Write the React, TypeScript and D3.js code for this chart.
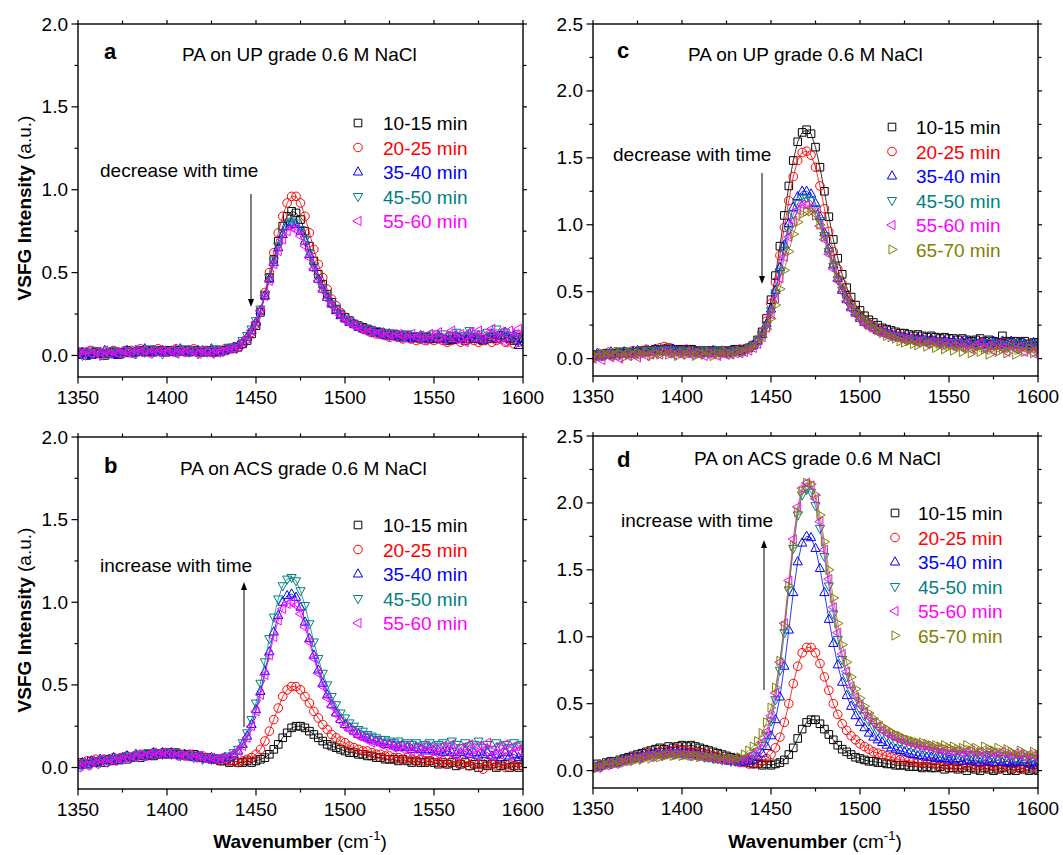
import React, { useEffect } from 'react';
import * as d3 from 'd3';

// ---------- DATA ----------
const wavenumbers = d3.range(0, 101).map((i) => 1350 + 2.5 * i);
const xTicksMajor = [1350, 1400, 1450, 1500, 1550, 1600];
const yTicksAB = [0.0, 0.5, 1.0, 1.5, 2.0];
const yTicksCD = [0.0, 0.5, 1.0, 1.5, 2.0, 2.5];
const timesAB = ['10-15 min', '20-25 min', '35-40 min', '45-50 min', '55-60 min'];
const timesCD = ['10-15 min', '20-25 min', '35-40 min', '45-50 min', '55-60 min', '65-70 min'];
const seriesColors = ['#000000', '#ff0000', '#0000ff', '#008080', '#ff00ff', '#808000'];
const markerShapes = ['square', 'circle', 'up', 'down', 'left', 'right'];

// Panel a: PA on UP grade
const aBlack = [0.01,0.02,0.00,0.01,0.02,0.01,0.00,0.01,0.02,0.01,0.02,0.03,0.02,0.02,0.03,0.02,0.03,0.02,0.03,0.02,0.03,
 0.03,0.02,0.03,0.03,0.02,0.03,0.02,0.02,0.03,0.02,0.02,0.03,0.03,0.04,0.04,
 0.05,0.07,0.09,0.13,0.18,0.26,0.36,0.47,0.58,0.69,0.78,0.84,
 0.87,0.86,0.82,0.75,0.66,0.57,0.49,0.43,0.37,0.32,0.28,0.25,0.23,
 0.21,0.19,0.18,0.17,0.16,0.15,0.14,0.14,0.13,0.12,0.13,0.12,0.11,0.12,0.11,0.11,0.10,0.11,0.10,0.10,
 0.11,0.10,0.09,0.10,0.11,0.10,0.09,0.10,0.11,0.10,0.09,0.10,0.11,0.10,0.12,0.11,0.10,0.09,0.11,0.10];
const aRed = [0.02,0.01,0.02,0.03,0.01,0.02,0.01,0.02,0.03,0.02,0.01,0.02,0.03,0.02,0.04,0.03,0.02,0.03,0.04,0.03,0.02,
 0.03,0.04,0.03,0.02,0.03,0.04,0.03,0.02,0.03,0.03,0.02,0.03,0.04,0.04,0.05,
 0.05,0.07,0.10,0.14,0.19,0.27,0.38,0.50,0.62,0.74,0.84,0.92,
 0.96,0.96,0.92,0.84,0.74,0.64,0.55,0.47,0.40,0.34,0.30,0.26,0.23,
 0.21,0.19,0.18,0.16,0.15,0.14,0.13,0.13,0.12,0.11,0.12,0.11,0.10,0.11,0.10,0.09,0.10,0.09,0.10,0.09,
 0.10,0.09,0.08,0.09,0.10,0.08,0.09,0.10,0.09,0.08,0.09,0.10,0.08,0.09,0.10,0.08,0.09,0.07,0.08,0.09];
const aBlue = [0.00,0.02,0.01,0.00,0.02,0.01,0.03,0.01,0.02,0.00,0.02,0.03,0.01,0.03,0.02,0.04,0.02,0.03,0.02,0.03,0.02,
 0.02,0.03,0.04,0.02,0.03,0.02,0.03,0.03,0.02,0.04,0.03,0.02,0.03,0.04,0.05,
 0.06,0.08,0.11,0.15,0.20,0.27,0.36,0.46,0.56,0.65,0.73,0.78,
 0.80,0.79,0.75,0.69,0.61,0.53,0.46,0.40,0.35,0.31,0.27,0.24,0.22,
 0.20,0.19,0.17,0.16,0.15,0.15,0.14,0.13,0.12,0.13,0.12,0.11,0.12,0.11,0.10,0.11,0.12,0.10,0.11,0.10,
 0.12,0.10,0.11,0.09,0.12,0.10,0.11,0.13,0.10,0.12,0.09,0.11,0.13,0.10,0.12,0.14,0.10,0.12,0.06,0.10];
const aTeal = [0.01,0.00,0.02,0.01,0.03,0.00,0.02,0.01,0.03,0.02,0.01,0.03,0.02,0.01,0.03,0.02,0.04,0.02,0.03,0.01,0.03,
 0.03,0.02,0.03,0.04,0.02,0.03,0.01,0.03,0.02,0.03,0.04,0.02,0.03,0.05,0.05,
 0.06,0.09,0.12,0.16,0.21,0.28,0.37,0.47,0.57,0.66,0.74,0.79,
 0.81,0.80,0.76,0.70,0.62,0.54,0.47,0.41,0.36,0.31,0.28,0.25,0.22,
 0.21,0.19,0.18,0.16,0.16,0.14,0.15,0.13,0.14,0.12,0.13,0.12,0.11,0.13,0.11,0.12,0.10,0.12,0.11,0.13,
 0.11,0.13,0.10,0.12,0.14,0.11,0.12,0.15,0.11,0.13,0.10,0.14,0.12,0.16,0.11,0.14,0.12,0.10,0.13,0.11];
const aMagenta = [0.02,0.00,0.03,0.01,0.02,0.00,0.03,0.01,0.02,0.01,0.03,0.02,0.01,0.03,0.02,0.03,0.01,0.03,0.02,0.03,0.02,
 0.03,0.01,0.03,0.02,0.03,0.02,0.01,0.03,0.02,0.01,0.03,0.02,0.03,0.04,0.04,
 0.05,0.08,0.11,0.15,0.20,0.27,0.36,0.45,0.55,0.63,0.70,0.75,
 0.77,0.76,0.72,0.66,0.59,0.52,0.45,0.39,0.34,0.30,0.27,0.24,0.21,
 0.20,0.18,0.17,0.16,0.14,0.15,0.13,0.14,0.12,0.13,0.11,0.13,0.12,0.10,0.13,0.11,0.12,0.09,0.13,0.11,
 0.14,0.09,0.12,0.15,0.10,0.13,0.08,0.14,0.11,0.15,0.09,0.13,0.16,0.10,0.14,0.08,0.15,0.11,0.16,0.12];

// Panel b: PA on ACS grade
const bBlack = [0.02,0.03,0.02,0.04,0.03,0.04,0.03,0.05,0.04,0.05,0.06,0.05,0.06,0.07,0.06,0.07,0.08,0.07,0.08,0.08,0.09,
 0.08,0.09,0.08,0.08,0.07,0.08,0.07,0.06,0.06,0.05,0.05,0.04,0.04,0.03,0.04,
 0.03,0.03,0.04,0.03,0.04,0.05,0.06,0.08,0.11,0.14,0.18,0.21,
 0.24,0.25,0.25,0.24,0.22,0.20,0.18,0.16,0.14,0.13,0.12,0.11,0.10,
 0.09,0.09,0.08,0.08,0.07,0.07,0.06,0.06,0.05,0.05,0.05,0.04,0.05,0.04,0.03,0.04,0.03,0.03,0.04,0.03,
 0.02,0.03,0.02,0.03,0.01,0.02,0.03,0.01,0.02,0.00,0.02,0.01,0.02,0.00,0.01,0.02,0.00,0.01,0.00,0.01];
const bRed = [0.03,0.02,0.04,0.03,0.05,0.04,0.05,0.04,0.06,0.05,0.06,0.07,0.06,0.07,0.08,0.07,0.08,0.09,0.08,0.09,0.08,
 0.09,0.08,0.08,0.07,0.08,0.07,0.06,0.07,0.06,0.05,0.05,0.04,0.05,0.04,0.04,
 0.03,0.04,0.05,0.06,0.08,0.11,0.16,0.22,0.29,0.36,0.43,0.47,
 0.49,0.49,0.47,0.43,0.39,0.34,0.30,0.26,0.23,0.20,0.18,0.16,0.15,
 0.13,0.12,0.11,0.10,0.10,0.09,0.08,0.08,0.07,0.07,0.06,0.06,0.05,0.06,0.05,0.04,0.05,0.04,0.04,0.05,
 0.03,0.04,0.02,0.04,0.03,0.02,0.04,0.01,0.03,0.02,-0.01,0.03,0.02,0.01,0.03,0.00,0.02,0.01,0.03,0.01];
const bBlue = [0.01,0.03,0.02,0.04,0.03,0.05,0.04,0.05,0.06,0.04,0.06,0.07,0.06,0.08,0.07,0.08,0.07,0.09,0.08,0.09,0.08,
 0.09,0.08,0.07,0.08,0.07,0.06,0.07,0.06,0.05,0.06,0.05,0.05,0.06,0.06,0.08,
 0.10,0.14,0.19,0.26,0.35,0.46,0.58,0.70,0.82,0.92,1.00,1.04,
 1.05,1.03,0.97,0.88,0.78,0.68,0.59,0.51,0.44,0.38,0.33,0.29,0.26,
 0.24,0.22,0.20,0.19,0.18,0.17,0.16,0.15,0.14,0.14,0.13,0.12,0.13,0.12,0.11,0.12,0.11,0.10,0.11,0.10,
 0.10,0.09,0.10,0.09,0.08,0.09,0.10,0.08,0.09,0.07,0.08,0.09,0.07,0.08,0.06,0.09,0.07,0.08,0.06,0.07];
const bTeal = [0.02,0.01,0.03,0.02,0.04,0.03,0.05,0.04,0.05,0.06,0.05,0.07,0.06,0.07,0.08,0.07,0.09,0.08,0.09,0.08,0.09,
 0.08,0.09,0.07,0.08,0.07,0.06,0.07,0.05,0.06,0.05,0.06,0.05,0.06,0.07,0.09,
 0.11,0.15,0.21,0.29,0.39,0.51,0.64,0.78,0.91,1.02,1.10,1.14,
 1.15,1.13,1.07,0.98,0.87,0.76,0.66,0.57,0.50,0.43,0.38,0.33,0.30,
 0.27,0.25,0.23,0.22,0.20,0.19,0.18,0.17,0.17,0.16,0.15,0.16,0.14,0.15,0.14,0.15,0.13,0.14,0.15,0.13,
 0.14,0.15,0.13,0.16,0.14,0.12,0.15,0.13,0.14,0.16,0.12,0.14,0.11,0.15,0.13,0.14,0.12,0.15,0.13,0.14];
const bMagenta = [0.00,0.03,0.01,0.04,0.02,0.05,0.03,0.05,0.04,0.06,0.05,0.06,0.07,0.06,0.08,0.07,0.08,0.09,0.08,0.09,0.08,
 0.09,0.07,0.08,0.07,0.08,0.06,0.07,0.06,0.05,0.06,0.05,0.06,0.05,0.07,0.08,
 0.10,0.13,0.18,0.25,0.34,0.44,0.56,0.68,0.79,0.89,0.96,0.99,
 1.00,0.98,0.93,0.85,0.76,0.66,0.57,0.49,0.42,0.37,0.32,0.28,0.25,
 0.23,0.21,0.19,0.18,0.17,0.15,0.16,0.14,0.13,0.14,0.12,0.13,0.11,0.13,0.10,0.12,0.09,0.13,0.10,0.12,
 0.08,0.13,0.10,0.14,0.07,0.12,0.09,0.14,0.08,0.13,0.10,0.15,0.07,0.12,0.09,0.14,0.08,0.13,0.10,0.12];

// Panel c: PA on UP grade
const cBlack = [0.02,0.03,0.02,0.04,0.03,0.04,0.05,0.04,0.05,0.04,0.05,0.06,0.05,0.06,0.07,0.06,0.07,0.08,0.07,0.06,0.07,
 0.06,0.07,0.06,0.05,0.06,0.05,0.06,0.05,0.06,0.05,0.06,0.07,0.06,0.07,0.08,
 0.10,0.14,0.20,0.30,0.44,0.62,0.84,1.07,1.29,1.48,1.62,1.69,
 1.71,1.68,1.58,1.43,1.25,1.06,0.89,0.75,0.63,0.53,0.46,0.40,0.36,
 0.32,0.29,0.27,0.25,0.23,0.22,0.21,0.20,0.19,0.19,0.18,0.17,0.18,0.17,0.16,0.17,0.16,0.15,0.16,0.15,
 0.15,0.14,0.15,0.14,0.13,0.14,0.15,0.13,0.14,0.13,0.12,0.17,0.13,0.12,0.13,0.12,0.13,0.11,0.12,0.12];
const cRed = [0.03,0.02,0.03,0.04,0.03,0.05,0.04,0.05,0.04,0.06,0.05,0.06,0.07,0.06,0.07,0.08,0.09,0.08,0.07,0.06,0.06,
 0.07,0.06,0.05,0.06,0.05,0.06,0.05,0.05,0.06,0.05,0.06,0.06,0.07,0.07,0.08,
 0.10,0.13,0.19,0.28,0.41,0.57,0.77,0.98,1.18,1.36,1.48,1.54,
 1.55,1.52,1.43,1.29,1.12,0.95,0.80,0.67,0.56,0.48,0.41,0.36,0.32,
 0.29,0.26,0.24,0.22,0.21,0.19,0.18,0.17,0.17,0.16,0.15,0.15,0.14,0.14,0.13,0.14,0.13,0.12,0.13,0.12,
 0.12,0.11,0.12,0.11,0.12,0.10,0.11,0.12,0.10,0.11,0.10,0.11,0.12,0.10,0.11,0.09,0.10,0.11,0.09,0.10];
const cBlue = [0.02,0.04,0.02,0.03,0.05,0.03,0.04,0.05,0.04,0.05,0.06,0.05,0.06,0.05,0.07,0.06,0.07,0.06,0.07,0.06,0.05,
 0.06,0.05,0.06,0.05,0.04,0.05,0.06,0.05,0.04,0.05,0.06,0.05,0.06,0.07,0.08,
 0.10,0.13,0.18,0.26,0.37,0.51,0.68,0.85,1.01,1.13,1.21,1.25,
 1.25,1.23,1.16,1.06,0.94,0.82,0.70,0.60,0.51,0.44,0.38,0.34,0.30,
 0.27,0.25,0.23,0.21,0.20,0.19,0.18,0.17,0.16,0.16,0.15,0.14,0.15,0.14,0.13,0.14,0.13,0.12,0.13,0.12,
 0.13,0.11,0.12,0.13,0.11,0.12,0.10,0.12,0.11,0.13,0.10,0.12,0.11,0.13,0.10,0.12,0.11,0.09,0.12,0.10];
const cTeal = [0.01,0.03,0.02,0.04,0.03,0.04,0.03,0.05,0.04,0.05,0.04,0.06,0.05,0.06,0.05,0.06,0.07,0.06,0.05,0.06,0.05,
 0.06,0.05,0.04,0.05,0.06,0.04,0.05,0.06,0.05,0.04,0.05,0.06,0.05,0.06,0.08,
 0.10,0.13,0.18,0.25,0.36,0.49,0.65,0.81,0.96,1.08,1.16,1.20,
 1.20,1.18,1.12,1.03,0.92,0.80,0.69,0.59,0.51,0.44,0.38,0.34,0.30,
 0.27,0.25,0.23,0.21,0.20,0.19,0.17,0.17,0.16,0.15,0.15,0.14,0.13,0.14,0.13,0.12,0.13,0.12,0.11,0.12,
 0.11,0.12,0.10,0.11,0.12,0.10,0.11,0.09,0.12,0.10,0.11,0.09,0.10,0.12,0.09,0.11,0.10,0.08,0.11,0.09];
const cMagenta = [0.00,0.02,-0.01,0.03,0.01,0.02,0.00,0.03,0.02,0.03,0.01,0.04,0.02,0.03,0.04,0.03,0.05,0.04,0.03,0.04,0.03,
 0.04,0.03,0.04,0.03,0.02,0.04,0.03,0.02,0.04,0.03,0.03,0.04,0.04,0.05,0.06,
 0.08,0.11,0.16,0.23,0.33,0.45,0.60,0.76,0.91,1.03,1.11,1.15,
 1.15,1.13,1.08,0.99,0.89,0.78,0.67,0.58,0.50,0.43,0.37,0.33,0.29,
 0.26,0.24,0.22,0.20,0.19,0.18,0.17,0.16,0.15,0.14,0.15,0.13,0.12,0.14,0.11,0.13,0.12,0.10,0.12,0.11,
 0.09,0.12,0.08,0.11,0.07,0.10,0.12,0.07,0.10,0.06,0.11,0.08,0.05,0.10,0.07,0.09,0.05,0.08,0.04,0.07];
const cOlive = [0.03,0.01,0.04,0.02,0.05,0.02,0.04,0.01,0.05,0.02,0.04,0.03,0.05,0.02,0.04,0.03,0.05,0.03,0.04,0.02,0.04,
 0.03,0.05,0.02,0.04,0.03,0.05,0.02,0.04,0.03,0.05,0.03,0.04,0.06,0.05,0.07,
 0.09,0.12,0.16,0.22,0.30,0.40,0.52,0.66,0.80,0.93,1.02,1.08,
 1.10,1.10,1.07,1.00,0.91,0.81,0.71,0.61,0.53,0.46,0.40,0.35,0.31,
 0.28,0.25,0.23,0.21,0.19,0.17,0.16,0.15,0.13,0.12,0.13,0.11,0.10,0.12,0.09,0.11,0.08,0.10,0.07,0.09,
 0.06,0.09,0.05,0.08,0.04,0.08,0.05,0.07,0.03,0.08,0.05,0.07,0.04,0.09,0.03,0.07,0.05,0.08,0.04,0.06];

// Panel d: PA on ACS grade
const dBlack = [0.03,0.05,0.04,0.06,0.07,0.06,0.08,0.09,0.10,0.11,0.12,0.13,0.14,0.15,0.16,0.17,0.16,0.18,0.17,0.18,0.19,
 0.18,0.19,0.18,0.17,0.16,0.15,0.14,0.13,0.12,0.11,0.10,0.09,0.08,0.07,0.06,
 0.05,0.05,0.04,0.05,0.04,0.05,0.06,0.08,0.12,0.17,0.24,0.31,
 0.36,0.38,0.38,0.35,0.31,0.27,0.23,0.19,0.16,0.14,0.12,0.10,0.09,
 0.08,0.07,0.07,0.06,0.06,0.05,0.05,0.04,0.04,0.04,0.03,0.03,0.03,0.02,0.03,0.02,0.02,0.03,0.01,0.02,
 0.02,0.01,0.02,0.00,0.02,0.01,0.00,0.02,0.01,0.00,0.01,0.02,0.00,0.01,0.00,0.02,0.01,0.00,0.01,0.00];
const dRed = [0.02,0.03,0.04,0.05,0.05,0.06,0.07,0.08,0.09,0.10,0.10,0.11,0.12,0.13,0.13,0.14,0.15,0.14,0.15,0.16,0.15,
 0.15,0.14,0.14,0.13,0.12,0.12,0.11,0.10,0.09,0.08,0.08,0.07,0.06,0.06,0.05,
 0.05,0.06,0.07,0.09,0.12,0.17,0.25,0.36,0.50,0.65,0.78,0.88,
 0.92,0.92,0.88,0.80,0.70,0.60,0.50,0.42,0.35,0.30,0.26,0.23,0.20,
 0.18,0.16,0.14,0.13,0.12,0.11,0.10,0.09,0.08,0.08,0.07,0.07,0.06,0.06,0.05,0.06,0.05,0.04,0.05,0.04,
 0.04,0.03,0.04,0.05,0.03,0.04,0.02,0.04,0.03,0.04,0.02,0.03,0.04,0.02,0.03,0.01,0.03,0.02,0.04,0.02];
const dBlue = [0.02,0.03,0.04,0.05,0.06,0.06,0.07,0.08,0.09,0.09,0.10,0.11,0.11,0.12,0.13,0.12,0.13,0.14,0.13,0.14,0.13,
 0.13,0.12,0.12,0.11,0.11,0.10,0.09,0.09,0.08,0.08,0.07,0.07,0.06,0.07,0.07,
 0.08,0.10,0.13,0.18,0.26,0.38,0.55,0.78,1.05,1.33,1.56,1.70,
 1.75,1.74,1.66,1.51,1.33,1.13,0.95,0.79,0.66,0.56,0.48,0.41,0.36,
 0.32,0.28,0.25,0.23,0.21,0.19,0.17,0.16,0.15,0.14,0.13,0.12,0.11,0.11,0.10,0.10,0.09,0.10,0.09,0.08,
 0.08,0.09,0.07,0.08,0.07,0.08,0.06,0.08,0.07,0.06,0.08,0.06,0.07,0.05,0.07,0.06,0.08,0.05,0.04,0.06];
const dTeal = [0.02,0.04,0.03,0.05,0.05,0.07,0.06,0.08,0.08,0.09,0.10,0.10,0.11,0.12,0.11,0.13,0.12,0.13,0.12,0.13,0.12,
 0.12,0.11,0.12,0.11,0.10,0.10,0.09,0.09,0.08,0.08,0.07,0.07,0.07,0.08,0.09,
 0.11,0.14,0.19,0.26,0.37,0.53,0.75,1.03,1.35,1.66,1.91,2.06,
 2.10,2.08,1.98,1.81,1.60,1.38,1.17,0.98,0.83,0.70,0.60,0.52,0.46,
 0.41,0.37,0.33,0.30,0.28,0.26,0.24,0.22,0.21,0.20,0.19,0.18,0.17,0.16,0.16,0.15,0.14,0.14,0.13,0.13,
 0.12,0.13,0.11,0.12,0.11,0.12,0.10,0.11,0.12,0.10,0.11,0.09,0.11,0.10,0.09,0.11,0.08,0.10,0.09,0.08];
const dMagenta = [0.03,0.02,0.04,0.04,0.06,0.05,0.07,0.07,0.08,0.09,0.09,0.10,0.11,0.10,0.12,0.11,0.12,0.13,0.12,0.13,0.12,
 0.12,0.12,0.11,0.11,0.10,0.10,0.09,0.09,0.08,0.08,0.08,0.07,0.08,0.09,0.10,
 0.12,0.15,0.21,0.29,0.41,0.58,0.81,1.10,1.42,1.73,1.97,2.11,
 2.15,2.13,2.03,1.86,1.65,1.43,1.22,1.03,0.87,0.74,0.63,0.55,0.49,
 0.44,0.40,0.36,0.33,0.30,0.28,0.26,0.25,0.23,0.22,0.21,0.20,0.19,0.18,0.18,0.17,0.16,0.16,0.15,0.15,
 0.14,0.15,0.13,0.14,0.15,0.13,0.14,0.12,0.14,0.13,0.12,0.14,0.12,0.11,0.13,0.12,0.10,0.12,0.11,0.10];
const dOlive = [0.04,0.02,0.05,0.04,0.06,0.05,0.07,0.06,0.08,0.07,0.09,0.08,0.10,0.09,0.11,0.10,0.11,0.12,0.11,0.12,0.11,
 0.12,0.11,0.11,0.10,0.11,0.10,0.10,0.09,0.10,0.09,0.09,0.08,0.10,0.12,0.15,
 0.18,0.22,0.28,0.36,0.47,0.62,0.82,1.08,1.38,1.68,1.93,2.09,
 2.15,2.14,2.06,1.91,1.71,1.50,1.29,1.10,0.94,0.81,0.70,0.61,0.54,
 0.48,0.43,0.39,0.36,0.33,0.31,0.29,0.27,0.26,0.24,0.23,0.22,0.21,0.21,0.20,0.19,0.19,0.18,0.19,0.17,
 0.18,0.16,0.17,0.19,0.15,0.17,0.14,0.18,0.16,0.15,0.17,0.13,0.16,0.14,0.12,0.15,0.13,0.11,0.14,0.12];

// ---------- DRAWING ----------
const FONT = '"Liberation Sans", Arial, Helvetica, sans-serif';

function markerPath(shape: string, cx: number, cy: number): string {
  const s = 3.8;
  switch (shape) {
    case 'square':
      return `M${cx - s},${cy - s}h${2 * s}v${2 * s}h${-2 * s}Z`;
    case 'circle':
      return `M${cx + 4.3},${cy}A4.3,4.3 0 1 1 ${cx - 4.3},${cy}A4.3,4.3 0 1 1 ${cx + 4.3},${cy}Z`;
    case 'up':
      return `M${cx},${cy - 5.2}L${cx + 4.6},${cy + 3}L${cx - 4.6},${cy + 3}Z`;
    case 'down':
      return `M${cx},${cy + 5.2}L${cx + 4.6},${cy - 3}L${cx - 4.6},${cy - 3}Z`;
    case 'left':
      return `M${cx - 5.2},${cy}L${cx + 3},${cy - 4.6}L${cx + 3},${cy + 4.6}Z`;
    default:
      return `M${cx + 5.2},${cy}L${cx - 3},${cy - 4.6}L${cx - 3},${cy + 4.6}Z`;
  }
}

type PanelProps = {
  id: string;
  left: number;
  right: number;
  top: number;
  bottom: number;
  yMax: number;
  yTicks: number[];
  series: number[][];
  names: string[];
  letter: string;
  letterPos: [number, number];
  title: string;
  titlePos: [number, number];
  note: string;
  notePos: [number, number];
  arrow: [number, number, number]; // x, yFrom, yTo
  legendPos: [number, number, number]; // markerX, textX, firstRowY
  legendStep: number;
  showXLabels: boolean;
};

function Panel(p: PanelProps) {
  const x = d3.scaleLinear().domain([1350, 1600]).range([p.left, p.right]);
  const y = d3.scaleLinear().domain([-0.13, p.yMax]).range([p.bottom, p.top]);
  const xMinor = d3.range(1375, 1600, 50);
  const yMinor = d3.range(0.25, p.yMax, 0.5);
  const line = d3
    .line<number>()
    .x((_, i) => x(wavenumbers[i]))
    .y((d) => y(d));
  const [ax, ay0, ay1] = p.arrow;
  const dir = ay1 > ay0 ? 1 : -1;
  return (
    <g>
      <defs>
        <clipPath id={`clip-${p.id}`}>
          <rect x={p.left} y={p.top} width={p.right - p.left} height={p.bottom - p.top} />
        </clipPath>
      </defs>
      <g clipPath={`url(#clip-${p.id})`}>
        {p.series.map((vals, si) => (
          <g key={si}>
            <path d={line(vals) || ''} fill="none" stroke={seriesColors[si]} strokeWidth={0.8} />
            {vals.map((v, i) => (
              <path
                key={i}
                d={markerPath(markerShapes[si], x(wavenumbers[i]), y(v))}
                fill="none"
                stroke={seriesColors[si]}
                strokeWidth={1}
              />
            ))}
          </g>
        ))}
      </g>
      {/* frame */}
      <rect
        x={p.left}
        y={p.top}
        width={p.right - p.left}
        height={p.bottom - p.top}
        fill="none"
        stroke="#000"
        strokeWidth={1.4}
      />
      {/* x ticks */}
      {xTicksMajor.map((t) => (
        <g key={`xt${t}`}>
          <line x1={x(t)} x2={x(t)} y1={p.bottom} y2={p.bottom + 6.5} stroke="#000" strokeWidth={1.2} />
          <line x1={x(t)} x2={x(t)} y1={p.top} y2={p.top - 4} stroke="#000" strokeWidth={1.2} />
          {p.showXLabels && (
            <text x={x(t)} y={p.bottom + 27} textAnchor="middle" fontSize={19} fontFamily={FONT}>
              {t}
            </text>
          )}
        </g>
      ))}
      {xMinor.map((t) => (
        <g key={`xm${t}`}>
          <line x1={x(t)} x2={x(t)} y1={p.bottom} y2={p.bottom + 3.5} stroke="#000" strokeWidth={1.2} />
          <line x1={x(t)} x2={x(t)} y1={p.top} y2={p.top - 3.5} stroke="#000" strokeWidth={1.2} />
        </g>
      ))}
      {/* y ticks */}
      {p.yTicks.map((t) => (
        <g key={`yt${t}`}>
          <line x1={p.left} x2={p.left - 6.5} y1={y(t)} y2={y(t)} stroke="#000" strokeWidth={1.2} />
          <line x1={p.right} x2={p.right + 4} y1={y(t)} y2={y(t)} stroke="#000" strokeWidth={1.2} />
          <text x={p.left - 10} y={y(t) + 6.5} textAnchor="end" fontSize={19} fontFamily={FONT}>
            {t.toFixed(1)}
          </text>
        </g>
      ))}
      {yMinor.map((t) => (
        <g key={`ym${t}`}>
          <line x1={p.left} x2={p.left - 3.5} y1={y(t)} y2={y(t)} stroke="#000" strokeWidth={1.2} />
          <line x1={p.right} x2={p.right + 3.5} y1={y(t)} y2={y(t)} stroke="#000" strokeWidth={1.2} />
        </g>
      ))}
      {/* labels */}
      <text x={p.letterPos[0]} y={p.letterPos[1]} fontSize={22} fontWeight="bold" fontFamily={FONT}>
        {p.letter}
      </text>
      <text x={p.titlePos[0]} y={p.titlePos[1]} fontSize={19} fontFamily={FONT}>
        {p.title}
      </text>
      <text x={p.notePos[0]} y={p.notePos[1]} fontSize={19} fontFamily={FONT}>
        {p.note}
      </text>
      <line x1={ax} x2={ax} y1={ay0} y2={ay1 - dir * 6} stroke="#000" strokeWidth={1} />
      <path d={`M${ax},${ay1}L${ax - 3},${ay1 - dir * 8}L${ax + 3},${ay1 - dir * 8}Z`} fill="#000" />
      {/* legend */}
      {p.names.map((n, i) => {
        const cy = p.legendPos[2] + i * p.legendStep;
        return (
          <g key={n}>
            <path
              d={markerPath(markerShapes[i], p.legendPos[0], cy)}
              fill="none"
              stroke={seriesColors[i]}
              strokeWidth={1}
            />
            <text x={p.legendPos[1]} y={cy + 7} fontSize={19} fontFamily={FONT} fill={seriesColors[i]}>
              {n}
            </text>
          </g>
        );
      })}
    </g>
  );
}

function YTitle({ cx, cy }: { cx: number; cy: number }) {
  return (
    <text transform={`translate(${cx},${cy}) rotate(-90)`} textAnchor="middle" fontSize={19} fontFamily={FONT}>
      <tspan fontWeight="bold">VSFG Intensity</tspan>
      <tspan> (a.u.)</tspan>
    </text>
  );
}

function XTitle({ cx, y }: { cx: number; y: number }) {
  return (
    <text x={cx} y={y} textAnchor="middle" fontSize={19} fontFamily={FONT}>
      <tspan fontWeight="bold">Wavenumber</tspan>
      <tspan> (cm</tspan>
      <tspan fontSize={13} dy={-8}>-1</tspan>
      <tspan dy={8}>)</tspan>
    </text>
  );
}

export default function App() {
  useEffect(() => {
    document.body.style.margin = '0';
  }, []);
  return (
    <svg width={1063} height={855} style={{ display: 'block', background: '#fff' }}>
      <Panel
        id="a"
        left={78}
        right={523}
        top={24}
        bottom={377}
        yMax={2.0}
        yTicks={yTicksAB}
        series={[aBlack, aRed, aBlue, aTeal, aMagenta]}
        names={timesAB}
        letter="a"
        letterPos={[104, 59]}
        title="PA on UP grade 0.6 M NaCl"
        titlePos={[182, 61]}
        note="decrease with time"
        notePos={[100, 177]}
        arrow={[251, 194, 307]}
        legendPos={[358, 383, 123]}
        legendStep={24.5}
        showXLabels={true}
      />
      <Panel
        id="b"
        left={78}
        right={523}
        top={437}
        bottom={789}
        yMax={2.0}
        yTicks={yTicksAB}
        series={[bBlack, bRed, bBlue, bTeal, bMagenta]}
        names={timesAB}
        letter="b"
        letterPos={[104, 473]}
        title="PA on ACS grade 0.6 M NaCl"
        titlePos={[180, 475]}
        note="increase with time"
        notePos={[100, 572]}
        arrow={[244, 727, 582]}
        legendPos={[358, 383, 525]}
        legendStep={24.5}
        showXLabels={true}
      />
      <Panel
        id="c"
        left={593}
        right={1038}
        top={24}
        bottom={376}
        yMax={2.5}
        yTicks={yTicksCD}
        series={[cBlack, cRed, cBlue, cTeal, cMagenta, cOlive]}
        names={timesCD}
        letter="c"
        letterPos={[617, 58]}
        title="PA on UP grade 0.6 M NaCl"
        titlePos={[688, 61]}
        note="decrease with time"
        notePos={[613, 161]}
        arrow={[762, 173, 284]}
        legendPos={[892, 916, 127]}
        legendStep={24.5}
        showXLabels={true}
      />
      <Panel
        id="d"
        left={593}
        right={1038}
        top={436}
        bottom={788}
        yMax={2.5}
        yTicks={yTicksCD}
        series={[dBlack, dRed, dBlue, dTeal, dMagenta, dOlive]}
        names={timesCD}
        letter="d"
        letterPos={[617, 467]}
        title="PA on ACS grade 0.6 M NaCl"
        titlePos={[694, 465]}
        note="increase with time"
        notePos={[621, 527]}
        arrow={[764, 690, 540]}
        legendPos={[895, 918, 513]}
        legendStep={24.5}
        showXLabels={true}
      />
      <YTitle cx={31} cy={208} />
      <YTitle cx={31} cy={620} />
      <XTitle cx={300} y={848} />
      <XTitle cx={815} y={848} />
    </svg>
  );
}
